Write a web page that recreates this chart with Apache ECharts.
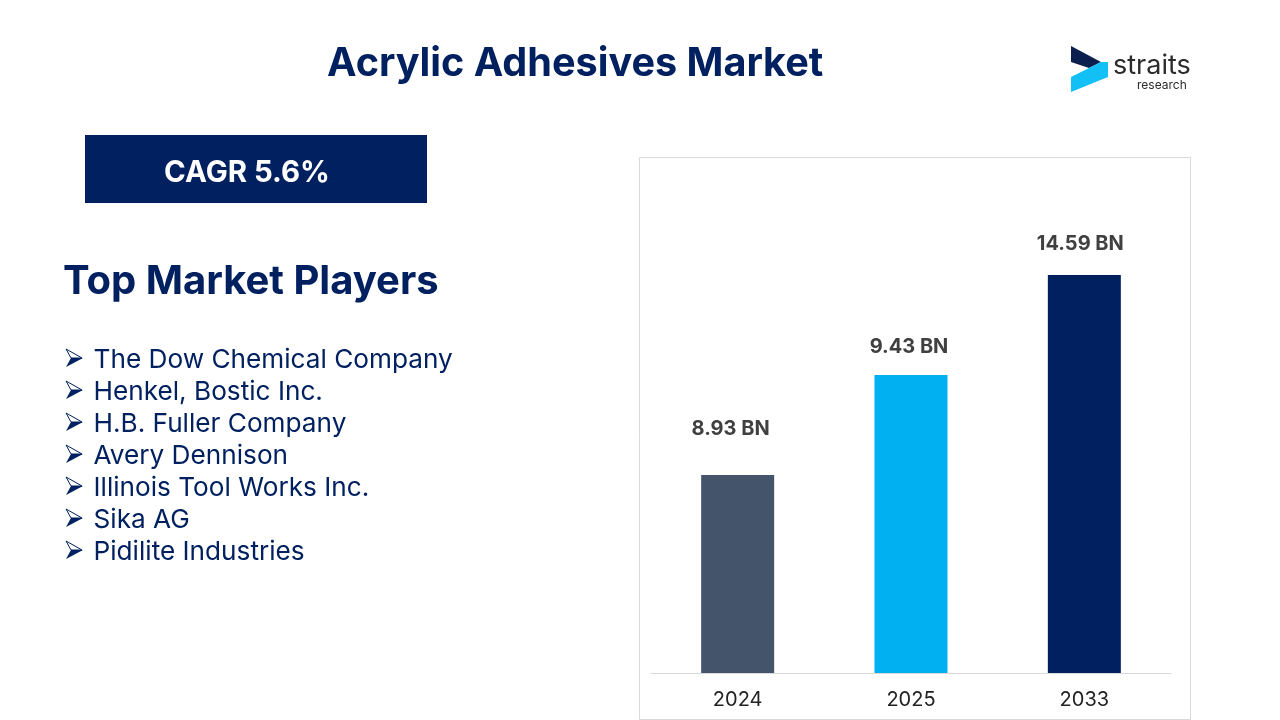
<!DOCTYPE html>
<html>
<head>
<meta charset="utf-8">
<style>
  html, body { margin: 0; padding: 0; background: #fff; }
  #chart { width: 1280px; height: 720px; }
</style>
<script src="https://cdn.jsdelivr.net/npm/echarts@6/dist/echarts.min.js"></script>
</head>
<body>
<div id="chart"></div>
<script>
// bars in the picture are not to scale with their labels, so heights are kept apart from the label text
const years = ["2024", "2025", "2033"];
const barHeights = [1.98, 2.98, 3.98];
const barLabels = ["8.93 BN", "9.43 BN", "14.59 BN"];
const barColors = ["#44546a", "#00b0f0", "#002060"];
const players = [
  "The Dow Chemical Company",
  "Henkel, Bostic Inc.",
  "H.B. Fuller Company",
  "Avery Dennison",
  "Illinois Tool Works Inc.",
  "Sika AG",
  "Pidilite Industries",
];

const navy = "#002060";
const font = "Inter";
const labelOffsets = [[-7, -16], [-2, 2], [-4, -1]];

const playerRows = players.flatMap((name, i) => [
  // arrow bullet: outlined top half, filled bottom half
  {
    type: "polygon", x: 0, y: i * 32,
    shape: { points: [[66, 349], [82, 358], [71, 358]] },
    style: { fill: "#fff", stroke: navy, lineWidth: 1 },
  },
  {
    type: "polygon", x: 0, y: i * 32,
    shape: { points: [[71, 358], [83, 358], [66, 367]] },
    style: { fill: navy },
  },
  {
    type: "text", left: 93.5, top: 347 + i * 32,
    style: { text: name, font: `26.2px ${font}`, fill: navy },
  },
]);

const chart = echarts.init(document.getElementById("chart"));
chart.setOption({
  animation: false,
  backgroundColor: "#fff",
  grid: { left: 651, right: 109, top: 173, bottom: 47 },
  xAxis: {
    type: "category",
    data: years,
    axisTick: { show: false },
    axisLine: { lineStyle: { color: "#d9d9d9", width: 1 } },
    axisLabel: { color: "#222", fontFamily: font, fontSize: 20, margin: 17 },
  },
  yAxis: { type: "value", min: 0, max: 5, show: false },
  series: [
    {
      type: "bar",
      barWidth: 73,
      data: barHeights.map((v, i) => ({
        value: v,
        itemStyle: { color: barColors[i] },
        label: { offset: labelOffsets[i] },
      })),
      label: {
        show: true,
        position: "top",
        distance: 20,
        formatter: (p) => barLabels[p.dataIndex],
        color: "#404040",
        fontFamily: font,
        fontWeight: "bold",
        fontSize: 20,
      },
    },
  ],
  graphic: [
    {
      type: "rect", z: -1,
      shape: { x: 639.5, y: 157.5, width: 551, height: 562 },
      style: { fill: "#fff", stroke: "#d9d9d9", lineWidth: 1 },
    },
    {
      type: "text", left: 327, top: 44,
      style: { text: "Acrylic Adhesives Market", font: `bold 39.6px ${font}`, fill: navy },
    },
    {
      type: "rect",
      shape: { x: 85, y: 135, width: 342, height: 68 },
      style: { fill: navy },
    },
    {
      type: "text", left: 164, top: 159,
      style: { text: "CAGR 5.6%", font: `bold 29.4px ${font}`, fill: "#fff" },
    },
    {
      type: "text", left: 63, top: 262,
      style: { text: "Top Market Players", font: `bold 40px ${font}`, fill: navy },
    },
    ...playerRows,
    {
      type: "polygon",
      shape: { points: [[1071, 46], [1101, 62], [1089, 68], [1071, 62]] },
      style: { fill: "#0b1f4f" },
    },
    {
      type: "polygon",
      shape: { points: [[1108, 62], [1108, 77], [1071, 92], [1071, 77], [1089, 68], [1101, 62]] },
      style: { fill: "#12c0f5" },
    },
    {
      type: "text", left: 1113, top: 52,
      style: { text: "straits", font: `27px ${font}`, fill: "#2b2b2b" },
    },
    {
      type: "text", left: 1137, top: 79,
      style: { text: "research", font: `12px ${font}`, fill: "#2b2b2b" },
    },
  ],
});
</script>
</body>
</html>
